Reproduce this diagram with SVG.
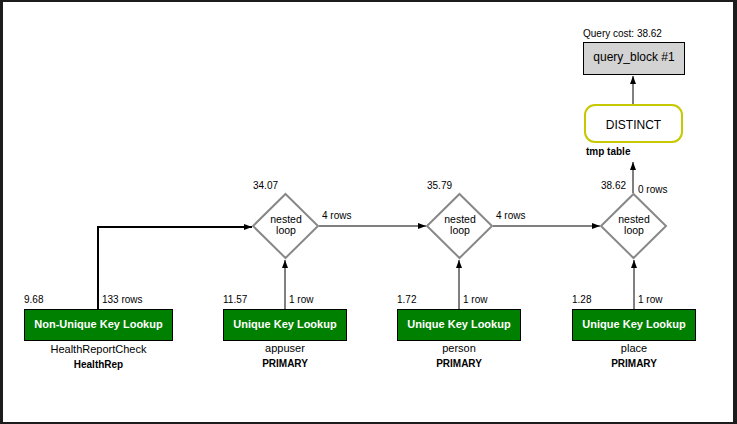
<svg xmlns="http://www.w3.org/2000/svg" width="737" height="424" viewBox="0 0 737 424">
<defs>
<style>
text{font-family:"Liberation Sans",Arial,sans-serif;fill:#000}
.s10{font-size:10px}
.s11{font-size:11px}
.s12{font-size:12px}
.nl{font-size:10.5px;text-anchor:middle}
.b{font-weight:bold}
.mid{text-anchor:middle}
.wt{fill:#fff;font-weight:bold;font-size:11px;text-anchor:middle}
.op{fill:#008000;stroke:#000;stroke-width:1}
.dia{fill:#fff;stroke:#888;stroke-width:2}
.con{fill:none;stroke:#000;stroke-width:1}
.thick{stroke-width:2}
</style>
<marker id="ah" markerUnits="userSpaceOnUse" markerWidth="8" markerHeight="6" refX="8" refY="3" orient="auto">
<path d="M0,0 L8,3 L0,6 z" fill="#000"/>
</marker>
</defs>
<rect x="0" y="0" width="737" height="424" fill="#1c1c1c"/>
<rect x="3" y="2" width="730" height="420" fill="#fff"/>

<g id="connectors">
<path class="con thick" d="M98,309 V227 H252" marker-end="url(#ah)"/>
<path class="con" d="M285,309 V260" marker-end="url(#ah)"/>
<path class="con" d="M459,309 V260" marker-end="url(#ah)"/>
<path class="con" d="M634,309 V260" marker-end="url(#ah)"/>
<path class="con" d="M319,226 H426" marker-end="url(#ah)"/>
<path class="con" d="M493,226 H600" marker-end="url(#ah)"/>
<path class="con" d="M633,193 V162" marker-end="url(#ah)"/>
<path class="con" d="M633,105 V76" marker-end="url(#ah)"/>
</g>

<g id="query_block">
<text class="s10" x="583" y="37">Query cost: 38.62</text>
<rect x="583.5" y="42.5" width="101" height="32" fill="#d3d3d3" stroke="#000"/>
<text class="s12 mid" x="634" y="61">query_block #1</text>
</g>

<g id="distinct">
<rect x="585" y="105" width="97" height="37" rx="10" fill="#fff" stroke="#c6c800" stroke-width="2"/>
<text class="s12 mid" x="633.5" y="128.5">DISTINCT</text>
<text class="s10 b" x="586" y="155">tmp table</text>
</g>

<g id="nl1">
<polygon class="dia" points="285.5,194 318,226 285.5,258 253,226"/>
<text class="nl" x="286" y="223">nested</text>
<text class="nl" x="286" y="234">loop</text>
<text class="s10" x="253" y="189">34.07</text>
<text class="s10" x="322" y="219">4 rows</text>
</g>

<g id="nl2">
<polygon class="dia" points="459.5,194 492,226 459.5,258 427,226"/>
<text class="nl" x="460" y="223">nested</text>
<text class="nl" x="460" y="234">loop</text>
<text class="s10" x="427" y="189">35.79</text>
<text class="s10" x="496" y="219">4 rows</text>
</g>

<g id="nl3">
<polygon class="dia" points="633.5,194 666,226 633.5,258 601,226"/>
<text class="nl" x="634" y="223">nested</text>
<text class="nl" x="634" y="234">loop</text>
<text class="s10" x="601" y="189">38.62</text>
<text class="s10" x="638" y="193">0 rows</text>
</g>

<g id="healthrep">
<rect class="op" x="24.5" y="309.5" width="148" height="31"/>
<text class="wt" x="98.5" y="327.5">Non-Unique Key Lookup</text>
<text class="s10" x="24" y="303">9.68</text>
<text class="s10" x="102" y="303">133 rows</text>
<text class="s11 mid" x="98.5" y="353">HealthReportCheck</text>
<text class="s10 b mid" x="98.5" y="368">HealthRep</text>
</g>

<g id="appuser">
<rect class="op" x="223.5" y="309.5" width="123" height="31"/>
<text class="wt" x="285" y="327.5">Unique Key Lookup</text>
<text class="s10" x="223" y="303">11.57</text>
<text class="s10" x="289" y="303">1 row</text>
<text class="s11 mid" x="285" y="352">appuser</text>
<text class="s10 b mid" x="285" y="367">PRIMARY</text>
</g>

<g id="person">
<rect class="op" x="397.5" y="309.5" width="123" height="31"/>
<text class="wt" x="459" y="327.5">Unique Key Lookup</text>
<text class="s10" x="397" y="303">1.72</text>
<text class="s10" x="463" y="303">1 row</text>
<text class="s11 mid" x="459" y="352">person</text>
<text class="s10 b mid" x="459" y="367">PRIMARY</text>
</g>

<g id="place">
<rect class="op" x="572.5" y="309.5" width="123" height="31"/>
<text class="wt" x="634" y="327.5">Unique Key Lookup</text>
<text class="s10" x="572" y="303">1.28</text>
<text class="s10" x="638" y="303">1 row</text>
<text class="s11 mid" x="634" y="352">place</text>
<text class="s10 b mid" x="634" y="367">PRIMARY</text>
</g>
</svg>
